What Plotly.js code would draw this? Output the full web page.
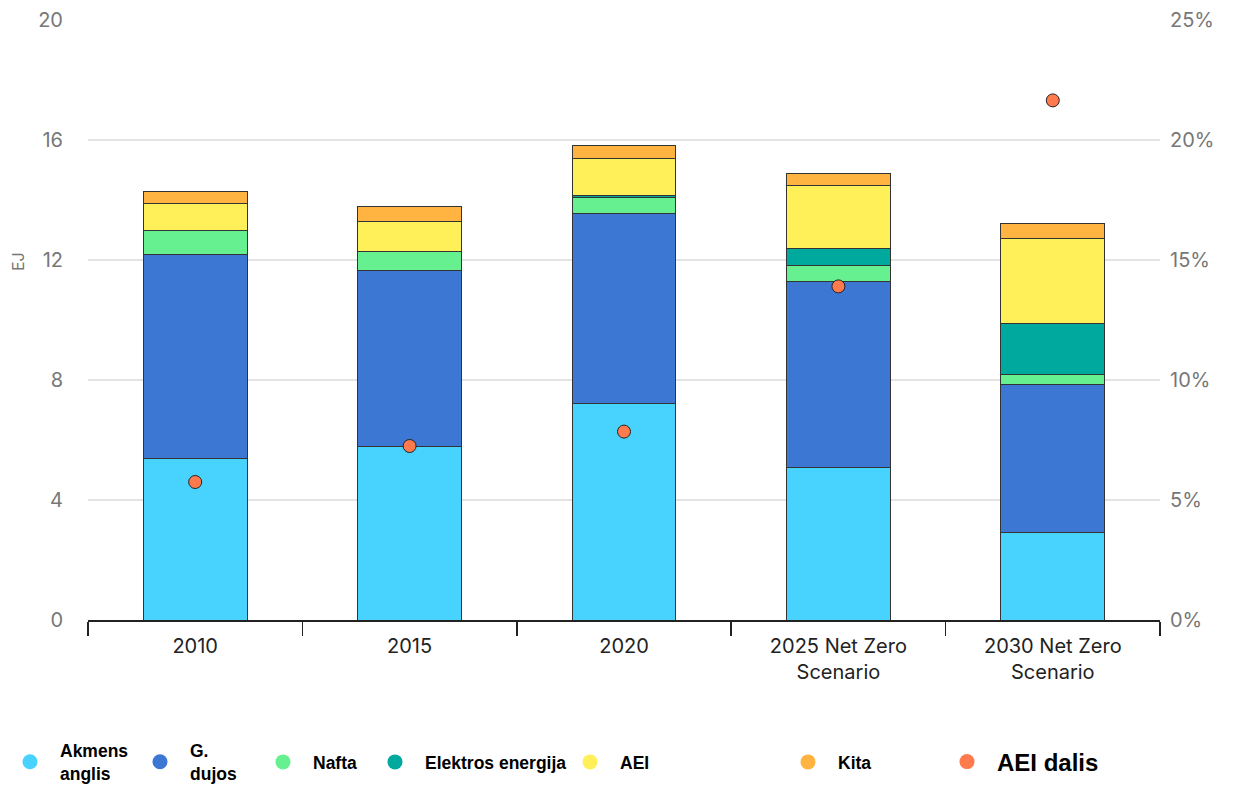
<!DOCTYPE html>
<html>
<head>
<meta charset="utf-8">
<script src="https://cdn.plot.ly/plotly-3.0.1.min.js"></script>
<style>html,body{margin:0;padding:0;background:#fff;}#chart{width:1243px;height:787px;}</style>
</head>
<body>
<div id="chart"></div>
<script>
const categories = ["2010", "2015", "2020", "2025 Net Zero<br>Scenario", "2030 Net Zero<br>Scenario"];
const coal = [5.37, 5.77, 7.23, 5.10, 2.93];
const gas = [6.80, 5.87, 6.33, 6.20, 4.93];
const oil = [0.83, 0.63, 0.53, 0.53, 0.33];
const electricity = [0.00, 0.00, 0.07, 0.57, 1.70];
const renewables = [0.87, 1.03, 1.23, 2.10, 2.83];
const other = [0.43, 0.50, 0.43, 0.40, 0.50];
const renewShare = [5.75, 7.25, 7.85, 13.9, 21.65];

const seriesNames = ["Akmens<br>anglis", "G.<br>dujos", "Nafta", "Elektros energija", "AEI", "Kita"];
const seriesColors = ["#48d3ff", "#3c78d3", "#66f08f", "#00a99d", "#fff059", "#ffb340"];
const seriesData = [coal, gas, oil, electricity, renewables, other];
const shareName = "AEI dalis";
const shareColor = "#ff7a4d";

const traces = [];
seriesData.forEach((vals, i) => {
  traces.push({
    type: "bar", x: categories, y: vals, name: seriesNames[i],
    marker: {color: seriesColors[i], line: {color: "#333", width: 1}},
    width: 0.485, showlegend: false, hoverinfo: "y+name"
  });
});
traces.push({
  type: "scatter", mode: "markers", x: categories, y: renewShare, yaxis: "y2",
  name: shareName, showlegend: false,
  marker: {color: shareColor, size: 13, line: {color: "#222", width: 1}}
});

const legendCenters = [30, 160, 283, 395, 590, 808, 967];
const legendNames = seriesNames.concat([shareName]);
const legendColors = seriesColors.concat([shareColor]);
const tickFamily = "Inter, 'Open Sans', sans-serif";
const layout = {
  width: 1243, height: 787,
  margin: {l: 88, r: 83, t: 20, b: 167},
  paper_bgcolor: "#fff", plot_bgcolor: "#fff",
  barmode: "stack",
  font: {family: tickFamily, color: "#777"},
  xaxis: {
    type: "category", tickson: "boundaries", ticks: "outside", ticklen: 14, tickwidth: 1.5,
    tickcolor: "#222", showline: true, linecolor: "#222", linewidth: 1.5,
    tickfont: {size: 20, color: "#222", family: tickFamily},
    ticklabelstandoff: 7,
    showgrid: false, range: [-0.5, 4.5]
  },
  yaxis: {
    range: [0, 20], dtick: 4, showgrid: true, gridcolor: "#e3e3e3", gridwidth: 1.5,
    zeroline: false, ticks: "", ticklabelstandoff: 24,
    tickfont: {size: 20, color: "#777", family: tickFamily}
  },
  yaxis2: {
    range: [0, 25], dtick: 5, ticksuffix: "%", overlaying: "y", side: "right",
    showgrid: false, zeroline: false, ticks: "", ticklabelstandoff: 9,
    tickfont: {size: 20, color: "#777", family: tickFamily}
  },
  annotations: [{
    text: "EJ", textangle: -90, xref: "paper", yref: "paper",
    x: (18 - 88) / 1072, xanchor: "center", y: 1 - (262 - 20) / 600, yanchor: "middle",
    showarrow: false, font: {size: 16, color: "#777", family: tickFamily}
  }],
  showlegend: true
};

legendNames.forEach((nm, i) => {
  const key = i === 0 ? "legend" : "legend" + (i + 1);
  layout[key] = {
    x: (legendCenters[i] - 30) / 1243, xref: "container", xanchor: "left",
    y: 1 - 762 / 787, yref: "container", yanchor: "middle",
    bgcolor: "rgba(0,0,0,0)", orientation: "h", itemwidth: 50,
    font: {family: "'Liberation Sans', Arial, sans-serif", size: i === 6 ? 24 : 17.5, color: "#000", weight: "bold"}
  };
  traces.push({
    type: "scatter", mode: "markers", x: [null], y: [null], name: nm,
    legend: key, showlegend: true, hoverinfo: "skip",
    marker: {color: legendColors[i], size: 15, symbol: "circle"}
  });
});

Plotly.newPlot("chart", traces, layout, {displayModeBar: false, staticPlot: true});
</script>
</body>
</html>
